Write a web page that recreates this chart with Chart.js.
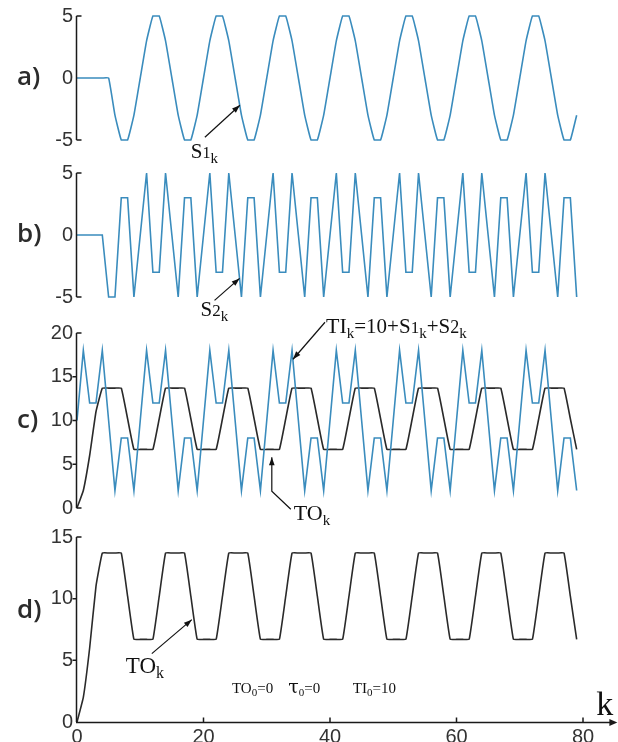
<!DOCTYPE html>
<html><head><meta charset="utf-8">
<script src="https://cdn.jsdelivr.net/npm/chart.js@4"></script>
<style>
html,body{margin:0;padding:0;background:#fff;}
#wrap{position:relative;width:618px;height:742px;overflow:hidden;background:#fff;}
#wrap canvas{position:absolute;left:0;top:0;}
</style></head><body>
<div id="wrap">
<canvas id="ca" width="618" height="742"></canvas>
<canvas id="cb" width="618" height="742"></canvas>
<canvas id="cc" width="618" height="742"></canvas>
<canvas id="cd" width="618" height="742"></canvas>
</div>
<script>
// sample index k
const k = [0,1,2,3,4,5,6,7,8,9,10,11,12,13,14,15,16,17,18,19,20,21,22,23,24,25,26,27,28,29,
30,31,32,33,34,35,36,37,38,39,40,41,42,43,44,45,46,47,48,49,50,51,52,53,54,55,56,57,58,59,
60,61,62,63,64,65,66,67,68,69,70,71,72,73,74,75,76,77,78,79];

// a) S1_k
const s1 = [0,0,0,0,0,0,-3,-5,-5,-3, 0,3,5,5,3,0,-3,-5,-5,-3, 0,3,5,5,3,0,-3,-5,-5,-3, 0,3,5,5,3,0,-3,-5,-5,-3,
0,3,5,5,3,0,-3,-5,-5,-3, 0,3,5,5,3,0,-3,-5,-5,-3, 0,3,5,5,3,0,-3,-5,-5,-3, 0,3,5,5,3,0,-3,-5,-5,-3];

// b) S2_k
const s2 = [0,0,0,0,0,-5,-5,3,3,-5, 0,5,-3,-3,5,0,-5,3,3,-5, 0,5,-3,-3,5,0,-5,3,3,-5, 0,5,-3,-3,5,0,-5,3,3,-5,
0,5,-3,-3,5,0,-5,3,3,-5, 0,5,-3,-3,5,0,-5,3,3,-5, 0,5,-3,-3,5,0,-5,3,3,-5, 0,5,-3,-3,5,0,-5,3,3,-5];

// c) TI_k
const ti = [10,18,12,12,18,10,2,8,8,2, 10,18,12,12,18,10,2,8,8,2, 10,18,12,12,18,10,2,8,8,2, 10,18,12,12,18,10,2,8,8,2,
10,18,12,12,18,10,2,8,8,2, 10,18,12,12,18,10,2,8,8,2, 10,18,12,12,18,10,2,8,8,2, 10,18,12,12,18,10,2,8,8,2];

// c), d) TO_k
const to = [0,2.0,6.0,11.0,13.7,13.7,13.7,13.7,10.2,6.7, 6.7,6.7,6.7,10.2,13.7,13.7,13.7,13.7,10.2,6.7,
6.7,6.7,6.7,10.2,13.7,13.7,13.7,13.7,10.2,6.7, 6.7,6.7,6.7,10.2,13.7,13.7,13.7,13.7,10.2,6.7,
6.7,6.7,6.7,10.2,13.7,13.7,13.7,13.7,10.2,6.7, 6.7,6.7,6.7,10.2,13.7,13.7,13.7,13.7,10.2,6.7,
6.7,6.7,6.7,10.2,13.7,13.7,13.7,13.7,10.2,6.7, 6.7,6.7,6.7,10.2,13.7,13.7,13.7,13.7,10.2,6.7];

// tick labels
const ticksA = [-5,0,5];
const ticksB = [-5,0,5];
const ticksC = [0,5,10,15,20];
const ticksD = [0,5,10,15];
const ticksX = [0,20,40,60,80];

const BLUE = '#3a8cbd';
const DARK = '#2a2a2a';
const TICKFONT = {family: "'Liberation Sans','Arimo',sans-serif", size: 20};
const SERIF = "'Liberation Serif','DejaVu Serif',serif";

function pts(ys){ return ys.map((v,i)=>({x:k[i], y:v})); }

function rich(ctx, x, y, parts){
  ctx.textBaseline = 'alphabetic'; ctx.textAlign = 'left';
  for (const [t, size, dy, fam] of parts){
    ctx.font = size + 'px ' + (fam || SERIF);
    ctx.fillText(t, x, y + (dy||0));
    x += ctx.measureText(t).width;
  }
}
function arrow(ctx, p){
  ctx.beginPath(); ctx.moveTo(p[0][0], p[0][1]);
  for (let i=1;i<p.length;i++) ctx.lineTo(p[i][0], p[i][1]);
  ctx.stroke();
  const [x2,y2]=p[p.length-1], [x1,y1]=p[p.length-2];
  const a=Math.atan2(y2-y1,x2-x1), L=8, W=2.8;
  ctx.beginPath(); ctx.moveTo(x2,y2);
  ctx.lineTo(x2-L*Math.cos(a)+W*Math.sin(a), y2-L*Math.sin(a)-W*Math.cos(a));
  ctx.lineTo(x2-L*Math.cos(a)-W*Math.sin(a), y2-L*Math.sin(a)+W*Math.cos(a));
  ctx.closePath(); ctx.fill();
}

const deco = {
  id: 'deco',
  afterDraw(chart, args, o){
    const ctx = chart.ctx, xs = chart.scales.x, ys = chart.scales.y, ca = chart.chartArea;
    ctx.save();
    ctx.strokeStyle = '#1a1a1a'; ctx.fillStyle = '#1a1a1a'; ctx.lineWidth = 1.5;
    const ax = Math.round(ca.left) - 0.5;
    const top = ys.getPixelForValue(ys.max), bot = ys.getPixelForValue(ys.min);
    ctx.beginPath(); ctx.moveTo(ax, top); ctx.lineTo(ax, bot);
    ctx.moveTo(ax, top); ctx.lineTo(ax+5, top);
    if (o.bottomBracket){ ctx.moveTo(ax, bot); ctx.lineTo(ax+5, bot); }
    for (const v of o.mid){ const y = ys.getPixelForValue(v); ctx.moveTo(ax-4, y); ctx.lineTo(ax, y); }
    ctx.stroke();
    ctx.fillStyle = '#2b2b2b';
    ctx.font = "600 26px 'Open Sans',sans-serif"; ctx.textBaseline = 'middle'; ctx.textAlign = 'left';
    ctx.fillText(o.label, 17, ys.getPixelForValue(o.labelAt));
    ctx.fillStyle = '#111'; ctx.strokeStyle = '#111'; ctx.lineWidth = 1.2;
    if (o.extra) o.extra(ctx, xs, ys, ca);
    ctx.restore();
  }
};

function make(id, cfg){
  const showX = !!cfg.showX;
  return new Chart(document.getElementById(id), {
    type: 'line',
    data: { datasets: cfg.datasets.map(d => ({
      data: pts(d.data), borderColor: d.color, borderWidth: 1.6, pointRadius: 0,
      fill: false, tension: d.tension || 0, clip: 6
    })) },
    options: {
      responsive: false, animation: false, devicePixelRatio: 1,
      layout: { padding: { left: 0, right: 35, top: cfg.top, bottom: cfg.bottom } },
      plugins: { legend: {display:false}, tooltip: {enabled:false}, deco: cfg.deco },
      scales: {
        x: { type: 'linear', min: 0, max: 80, display: showX, position: 'bottom',
             grid: {display:false, drawTicks:false}, border: {display:false},
             afterBuildTicks: s => { s.ticks = ticksX.map(v => ({value:v})); },
             afterFit: s => { if (showX) s.height = 20; },
             ticks: { font: TICKFONT, color: '#333', padding: 3, maxRotation: 0, autoSkip: false } },
        y: { min: cfg.ticks[0], max: cfg.ticks[cfg.ticks.length-1],
             grid: {display:false, drawTicks:false}, border: {display:false},
             afterBuildTicks: s => { s.ticks = cfg.ticks.map(v => ({value:v})); },
             afterFit: s => { s.width = 77; },
             ticks: { font: TICKFONT, color: '#333', padding: 4, autoSkip: false } }
      }
    },
    plugins: [deco]
  });
}

// a)
make('ca', { top: 15, bottom: 602, ticks: ticksA,
  datasets: [{data: s1, color: BLUE, tension: 0.1}],
  deco: { label: 'a)', labelAt: 0, bottomBracket: true, mid: [], extra(ctx, xs, ys){
    const tx = xs.getPixelForValue(25.75), ty = ys.getPixelForValue(-2.2);
    arrow(ctx, [[tx-35, ty+32], [tx, ty]]);
    rich(ctx, tx-49, ty+53, [['S',21],['1',16],['k',15,5]]);
  }}
});

// b)
make('cb', { top: 173, bottom: 445, ticks: ticksB,
  datasets: [{data: s2, color: BLUE}],
  deco: { label: 'b)', labelAt: 0, bottomBracket: true, mid: [], extra(ctx, xs, ys){
    const tx = xs.getPixelForValue(25.7), ty = ys.getPixelForValue(-3.5);
    arrow(ctx, [[tx-25, ty+22], [tx, ty]]);
    rich(ctx, tx-39, ty+38, [['S',21],['2',17],['k',15,5]]);
  }}
});

// c)
make('cc', { top: 333, bottom: 234, ticks: ticksC,
  datasets: [{data: ti, color: BLUE}, {data: to, color: DARK, tension: 0.1}],
  deco: { label: 'c)', labelAt: 10, bottomBracket: true, mid: [5,10,15], extra(ctx, xs, ys){
    let tx = xs.getPixelForValue(34.15), ty = ys.getPixelForValue(17);
    arrow(ctx, [[tx+32, ty-37], [tx, ty]]);
    rich(ctx, tx+33, ty-26, [['TI',22],['k',15,5],['=10+S',21],['1',17],['k',15,5],['+S',21],['2',18],['k',15,5]]);
    tx = xs.getPixelForValue(30.8); ty = ys.getPixelForValue(5.8);
    arrow(ctx, [[tx+19, ty+52], [tx, ty+34], [tx, ty]]);
    rich(ctx, tx+22, ty+63, [['TO',22],['k',15,5]]);
  }}
});

// d)
make('cd', { top: 537, bottom: 0, ticks: ticksD, showX: true,
  datasets: [{data: to, color: DARK, tension: 0.1}],
  deco: { label: 'd)', labelAt: 9, bottomBracket: false, mid: [5,10], extra(ctx, xs, ys, ca){
    ctx.lineWidth = 1.5; ctx.strokeStyle = '#1a1a1a'; ctx.fillStyle = '#1a1a1a';
    const y0 = Math.round(ys.getPixelForValue(0)) + 0.5;
    const xEnd = xs.getPixelForValue(84.8);
    ctx.beginPath(); ctx.moveTo(ca.left-1, y0); ctx.lineTo(xEnd, y0);
    for (const v of ticksX.slice(1)){ const x = xs.getPixelForValue(v); ctx.moveTo(x, y0); ctx.lineTo(x, y0-5); }
    ctx.stroke();
    ctx.beginPath(); ctx.moveTo(xEnd+4, y0); ctx.lineTo(xEnd-4, y0-3.5); ctx.lineTo(xEnd-4, y0+3.5); ctx.closePath(); ctx.fill();
    ctx.fillStyle = '#111'; ctx.strokeStyle = '#111'; ctx.lineWidth = 1.2;
    rich(ctx, xs.getPixelForValue(82.1), ys.getPixelForValue(0.55), [['k',34]]);
    const tx = xs.getPixelForValue(18.15), ty = ys.getPixelForValue(8.3);
    arrow(ctx, [[tx-40, ty+34], [tx, ty]]);
    rich(ctx, tx-66, ty+53, [['TO',23],['k',16,5]]);
    const py = ys.getPixelForValue(2.35);
    rich(ctx, xs.getPixelForValue(24.5), py, [['TO',15],['0',11,3],['=0',15]]);
    rich(ctx, xs.getPixelForValue(33.4), py, [['\u03C4',19,0,"'DejaVu Serif',serif"],['0',11,3],['=0',15]]);
    rich(ctx, xs.getPixelForValue(43.6), py, [['TI',15],['0',11,3],['=10',15]]);
  }}
});
</script>
</body></html>
